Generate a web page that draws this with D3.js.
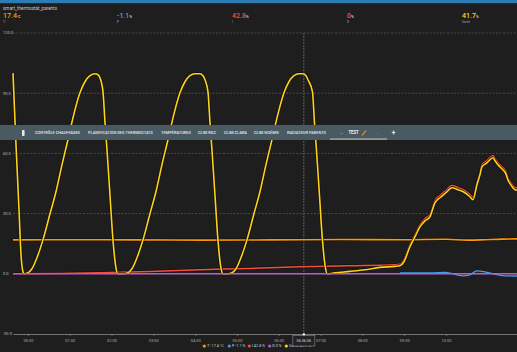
<!DOCTYPE html>
<html><head><meta charset="utf-8">
<script src="https://cdn.jsdelivr.net/npm/d3@7"></script>
<style>html,body{margin:0;padding:0;background:#1e1e1e;overflow:hidden}svg{display:block;font-family:Roboto,"Noto Sans",sans-serif}</style>
</head><body><svg id="c" width="517" height="352"></svg>
<script>
// ---- data ----
const title = "smart_thermostat_parents";
const seriesNames = ["T°", "P", "I", "D", "Sortie"];
const currentValues = ["17.4", "-1.1", "42.8", "0", "41.7"];
const units = ["°C", "%", "%", "%", "%"];
const seriesColors = ["#ff9800", "#42a0ec", "#f44f3c", "#b85ad0", "#ffd21a"];
const yTicks = [-30, 0, 30, 60, 90, 120];
const yTickLabels = ["-30.0", "0.0", "30.0", "60.0", "90.0", "120.0"];
const timeTicks = [0, 60, 120, 180, 240, 300, 360, 420, 480, 540, 600]; // minutes after 00:00
const timeLabels = ["00:00","01:00","02:00","03:00","04:00","05:00","06:00","07:00","08:00","09:00","10:00"];
const tabLabels = ["CONTRÔLE CHAUFFAGES","PLANIFICATION DES THERMOSTATS","TEMPÉRATURES","CLIM RDC","CLIM CLARA","CLIM NOÉMIE","RADIATEUR PARENTS"];
const activeTab = "TEST";
const cursorLabel = "06:36:36";
const cursorTime = 396;

// [minutes, value]
const tempT = [[-21.5,16.9],[60,17.0],[150,16.9],[250,16.8],[350,16.9],[450,17.1],[540,17.0],[600,17.2],[630,16.8],[650,16.9],[680,17.3],[702,17.4]];
const termP = [[534,0.5],[580,0.5],[598.6,0.7],[624.4,-1.0],[634.4,-0.5],[644.5,1.5],[656,1.0],[667.5,0],[684.7,-1.0],[702,-1.1]];
const termI = [[-21.5,0],[46,0.2],[103,0.5],[175,1.2],[247,2.0],[318,2.7],[390,3.5],[462,4.0],[527,4.5],[534,4.8],[539.7,7.1],[548.3,14.6],[555.5,19.5],[562.7,24.5],[569.9,27.5],[577,29.5],[584.2,36.5],[591.4,39.0],[600,41.5],[608.6,44.0],[617.2,43.0],[627.3,41.5],[634.4,39.5],[638.8,38.0],[644.5,45.4],[648.8,50.4],[651.7,54.4],[658.9,56.4],[663.2,57.9],[667.5,58.9],[670.4,57.4],[674.6,55.4],[681.8,52.9],[686.1,50.9],[689,47.9],[693.3,45.4],[699,43.0],[702,42.8]];
const termD = [[-21.5,0],[702,0]];
const output = [
 [-21.5,100],[-17.2,64.3],[-12.9,31.9],[-10,9.5],[-7.2,1.0],[-5.7,0],
 [0,0.5],[5.7,2.5],[12.9,8.0],[21.5,16.9],[31.6,29.9],[40.2,40.9],[48.8,54.3],[57.4,66.8],[66,79.7],[74.6,90.2],[81.8,95.7],[89,98.7],[96.2,99.7],[100.5,99.2],[103.3,97.7],[107.7,90.7],[110.5,75.7],[113.4,61.8],[117.7,39.4],[122,16.9],[126.3,3.0],[129.2,0],
 [137.8,0],[143.5,0.5],[149.3,2.5],[156.5,8.0],[165.1,16.9],[175.1,29.9],[183.7,40.9],[192.3,54.3],[201,66.8],[209.6,79.7],[218.2,90.2],[225.4,95.7],[232.5,98.7],[239.7,99.7],[246.9,99.7],[251.2,98.7],[254.1,96.7],[258.4,90.7],[261.2,75.7],[264.1,61.8],[268.4,39.4],[272.7,16.9],[277,3.0],[279.9,0],
 [287.1,0],[292.8,0.5],[298.6,2.5],[305.7,8.0],[314.4,16.9],[324.4,29.9],[333,40.9],[341.6,54.3],[350.2,66.8],[358.9,79.7],[367.5,90.2],[374.6,95.7],[381.8,98.7],[389,99.7],[394.7,99.7],[399,98.7],[401.9,96.7],[408.4,90.7],[411.2,75.7],[414.1,61.8],[418.4,39.4],[422.7,16.9],[427,3.0],[429.9,0],
 [440.7,0.5],[462.2,1.2],[483.7,2.0],[505.3,3.2],[526.8,3.7],[534,4.0],[539.7,6.0],[548.3,13.5],[555.5,18.4],[562.7,23.4],[569.9,26.4],[577,28.4],[584.2,35.4],[591.4,37.9],[600,40.4],[608.6,42.9],[617.2,41.9],[627.3,40.4],[634.4,38.4],[638.8,36.9],[644.5,44.3],[648.8,49.3],[651.7,53.3],[658.9,55.3],[663.2,56.8],[667.5,57.8],[670.4,56.3],[674.6,54.3],[681.8,51.8],[686.1,49.8],[689,46.8],[693.3,44.3],[699,41.9],[702,41.7]];

// ---- drawing ----
const svg = d3.select("#c");
const W = 517;
svg.append("rect").attr("width", W).attr("height", 352).attr("fill", "#1e1e1e");
svg.append("rect").attr("width", W).attr("height", 3).attr("fill", "#2b7db4");
svg.append("rect").attr("y", 3).attr("width", W).attr("height", 0.8).attr("fill", "#4a2424");

svg.append("text").attr("x", 3).attr("y", 10).attr("font-size", 4.6).attr("fill", "#c8c8c8")
  .attr("textLength", 54).text(title);

const statX = [3, 117, 232, 347, 462];
seriesNames.forEach((n, i) => {
  const t = svg.append("text").attr("x", statX[i]).attr("y", 17.5).attr("fill", seriesColors[i])
    .attr("font-size", 7).attr("font-weight", 500);
  t.append("tspan").text(currentValues[i]);
  t.append("tspan").attr("font-size", 3.8).attr("fill", "#cfcfcf").text(units[i]);
  svg.append("text").attr("x", statX[i]).attr("y", 23).attr("font-size", 3).attr("fill", "#aaa").text(n);
});

const x = d3.scaleLinear().domain([-21.5, 702]).range([13, 517]);
const y = d3.scaleLinear().domain([-30, 120]).range([334, 33]);

// grid
svg.append("g").selectAll("line").data(yTicks.filter(d => d !== -30)).join("line")
  .attr("x1", 13).attr("x2", W).attr("y1", d => y(d)).attr("y2", d => y(d))
  .attr("stroke", "#5c5c5c").attr("stroke-width", 0.7).attr("stroke-dasharray", "2,1.5");
svg.append("g").selectAll("text").data(yTicks).join("text")
  .attr("x", 3).attr("y", d => y(d) + 1.4).attr("font-size", 4).attr("fill", "#bdbdbd")
  .text((d, i) => yTickLabels[i]);

// x axis
const ax = svg.append("g").attr("transform", "translate(0,334)")
  .call(d3.axisBottom(x).tickValues(timeTicks).tickFormat((d, i) => timeLabels[i]).tickSize(2).tickSizeOuter(0).tickPadding(3));
ax.select(".domain").attr("stroke", "#8c8c8c").attr("stroke-width", 0.8);
ax.selectAll(".tick line").attr("stroke", "#8c8c8c").attr("stroke-width", 0.6);
ax.selectAll(".tick text").attr("fill", "#aaa").attr("font-size", 4).attr("font-family", "Roboto");

// crosshair
svg.append("line").attr("x1", x(cursorTime)).attr("x2", x(cursorTime)).attr("y1", 33).attr("y2", 334)
  .attr("stroke", "#8a8a8a").attr("stroke-width", 0.6).attr("stroke-dasharray", "2,1");

const line = d3.line().x(d => x(d[0])).y(d => y(d[1])).curve(d3.curveMonotoneX);
const draw = (data, color, w, halo) => {
  if (halo) svg.append("path").attr("d", line(data)).attr("fill", "none").attr("stroke", "#0c0c0c").attr("stroke-opacity", 0.7).attr("stroke-width", w + 1.4);
  svg.append("path").attr("d", line(data)).attr("fill", "none").attr("stroke", color).attr("stroke-width", w).attr("stroke-linejoin", "round");
};
draw(termI, seriesColors[2], 1.5, true);
draw(termP, seriesColors[1], 1.3, false);
draw(tempT, seriesColors[0], 1.6, true);
draw(output, seriesColors[4], 1.6, true);
draw(termD, seriesColors[3], 1.4, false);

// legend
const legX = [204.3, 229.3, 249.3, 269.7, 286.3];
seriesNames.forEach((n, i) => {
  svg.append("circle").attr("cx", legX[i]).attr("cy", 346).attr("r", 1.6).attr("fill", seriesColors[i]);
  svg.append("text").attr("x", legX[i] + 2.6).attr("y", 347.4).attr("font-size", 3.8).attr("fill", "#d0d0d0")
    .text(n + " " + currentValues[i] + " " + units[i]);
});

// cursor tooltip
const cx = x(cursorTime);
svg.append("rect").attr("x", cx - 11).attr("y", 335.5).attr("width", 22).attr("height", 10.5)
  .attr("fill", "#222").attr("stroke", "#8a8a8a").attr("stroke-width", 0.6);
svg.append("text").attr("x", cx).attr("y", 342).attr("text-anchor", "middle").attr("font-size", 3.8).attr("fill", "#ddd").text(cursorLabel);
svg.append("rect").attr("x", cx - 1).attr("y", 333.3).attr("width", 2).attr("height", 2).attr("fill", "#fff");

// tab bar overlay
svg.append("rect").attr("x", 0).attr("y", 125).attr("width", W).attr("height", 15).attr("fill", "#4a5a63");
svg.append("rect").attr("x", 22).attr("y", 130).attr("width", 2.6).attr("height", 6).attr("rx", 0.8).attr("fill", "#e8e8e8");
const tabX = [[35,80],[88,153],[161,191],[198,216],[224,247],[254,279],[287,326]];
tabLabels.forEach((t, i) => {
  svg.append("text").attr("x", tabX[i][0]).attr("y", 134.3).attr("font-size", 4.4).attr("font-weight", 500)
    .attr("fill", "#e6e6e6").attr("textLength", tabX[i][1] - tabX[i][0]).attr("lengthAdjust", "spacingAndGlyphs").text(t);
});
svg.append("text").attr("x", 342).attr("y", 134.8).attr("font-size", 6).attr("text-anchor", "middle").attr("fill", "#e0a040").text("←");
svg.append("text").attr("x", 348.5).attr("y", 134.3).attr("font-size", 4.6).attr("font-weight", 700).attr("fill", "#f2f2f2")
  .attr("textLength", 10).attr("lengthAdjust", "spacingAndGlyphs").text(activeTab);
svg.append("line").attr("x1", 362).attr("y1", 135.5).attr("x2", 366).attr("y2", 130.5).attr("stroke", "#f0a020").attr("stroke-width", 1.1);
svg.append("text").attr("x", 377).attr("y", 134.8).attr("font-size", 6).attr("text-anchor", "middle").attr("fill", "#6d7d87").text("→");
svg.append("text").attr("x", 393.5).attr("y", 135.2).attr("font-size", 6.5).attr("font-weight", 700).attr("text-anchor", "middle").attr("fill", "#f0f0f0").text("+");
svg.append("rect").attr("x", 330).attr("y", 138.6).attr("width", 57).attr("height", 0.9).attr("fill", "#d0d0d0");
</script>
</body></html>
